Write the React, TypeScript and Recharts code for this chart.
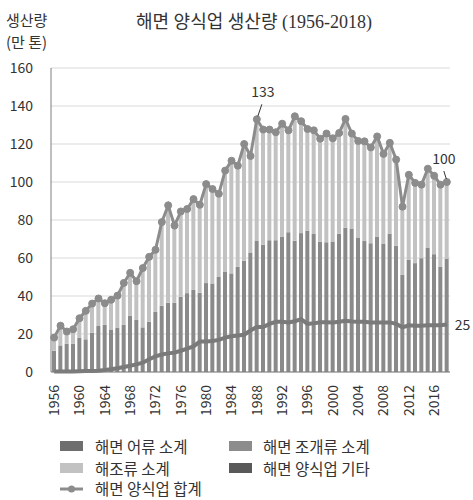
import React from 'react';
import { ComposedChart, Bar, Line, XAxis, YAxis, CartesianGrid, LabelList } from 'recharts';

const years: string[] = [];
for (let y = 1956; y <= 2018; y++) years.push(String(y));

// 해면 양식업 합계 (만 톤)
const totalValues = [
  18.1, 24.4, 21.3, 22.5, 28.3, 32.2, 36.0, 38.7, 36.2, 38.0,
  40.2, 46.9, 52.2, 47.8, 54.7, 60.6, 64.3, 78.9, 87.7, 77.1,
  84.5, 85.8, 91.0, 88.0, 98.9, 96.3, 93.8, 106.0, 111.2, 108.6,
  120.0, 113.7, 133, 127.6, 127.6, 126.2, 130.7, 127.2, 134.6, 132.0,
  127.9, 127.2, 122.8, 125.5, 123.0, 125.8, 133.2, 125.5, 121.6, 121.4,
  118.2, 124.0, 114.8, 120.6, 111.8, 87.0, 103.8, 99.5, 98.6, 107.0,
  103.3, 98.6, 100,
];

// top of the medium-gray bar segment
const lowerBarTop = [
  11.2, 14.0, 14.8, 14.8, 18.1, 17.2, 20.6, 24.2, 24.8, 22.1,
  23.4, 24.8, 29.7, 27.4, 23.5, 26.4, 31.6, 34.9, 36.5, 36.5,
  39.6, 41.5, 43.2, 41.7, 46.8, 46.6, 50.0, 52.9, 51.9, 55.4,
  58.6, 62.9, 69.2, 66.9, 69.4, 69.4, 71.3, 73.6, 69.1, 73.1,
  74.3, 72.6, 68.5, 68.3, 68.7, 72.7, 75.9, 75.5, 70.8, 68.9,
  67.8, 71.3, 67.6, 72.7, 66.4, 51.1, 59.0, 57.3, 59.9, 65.5,
  62.0, 55.5, 59.7,
];

// thick dark line near the bottom
const bottomLine = [
  0.2, 0.2, 0.3, 0.3, 0.4, 0.5, 0.5, 0.7, 1.0, 1.4,
  2.0, 2.6, 3.3, 4.0, 4.9, 6.7, 8.2, 9.2, 9.8, 10.2,
  11.2, 12.3, 13.5, 16.0, 16.0, 16.3, 16.9, 18.1, 18.8, 19.2,
  19.6, 21.8, 23.7, 23.7, 25.3, 26.4, 26.4, 26.1, 26.7, 27.8,
  25.3, 25.6, 26.2, 26.2, 26.1, 26.4, 27.0, 26.6, 26.4, 26.4,
  26.1, 26.1, 26.1, 26.1, 25.3, 23.5, 24.6, 24.4, 24.4, 24.6,
  24.6, 24.6, 25,
];

const yTicks = [0, 20, 40, 60, 80, 100, 120, 140, 160];

const data = years.map((year, i) => ({
  year,
  lower: lowerBarTop[i],
  upper: Math.round((totalValues[i] - lowerBarTop[i]) * 10) / 10,
  total: totalValues[i],
  bottom: bottomLine[i],
}));

const FONT = '"Noto Sans CJK KR", "Noto Sans", sans-serif';
const SERIF = '"Liberation Serif", "DejaVu Serif", "Noto Sans CJK KR", serif';
const TXT = '#333333';

const XTick = (props: any) => {
  const { x, y, payload } = props;
  return (
    <text
      x={x}
      y={y}
      transform={`rotate(-90, ${x}, ${y})`}
      textAnchor="end"
      dy="0.35em"
      fontSize={14}
      fill={TXT}
      fontFamily={FONT}
    >
      {payload.value}
    </text>
  );
};

const totalLabel = (props: any) => {
  const { x, y, index, value } = props;
  if (index === 32) {
    return (
      <g>
        <text x={x + 6} y={y - 22} textAnchor="middle" fontSize={14} fill={TXT} fontFamily={FONT}>
          {Math.round(value)}
        </text>
        <line x1={x + 1} y1={y - 3} x2={x + 5} y2={y - 15} stroke="#333" strokeWidth={1} />
      </g>
    );
  }
  if (index === 62) {
    return (
      <g>
        <text x={x - 3} y={y - 18} textAnchor="middle" fontSize={14} fill={TXT} fontFamily={FONT}>
          {Math.round(value)}
        </text>
        <line x1={x - 0.5} y1={y - 3} x2={x - 3} y2={y - 11} stroke="#333" strokeWidth={1} />
      </g>
    );
  }
  return null;
};

const bottomLabel = (props: any) => {
  const { x, y, index, value } = props;
  if (index === 62) {
    return (
      <text x={x + 8} y={y + 5} fontSize={14} fill={TXT} fontFamily={FONT}>
        {Math.round(value)}
      </text>
    );
  }
  return null;
};

const legendText: React.CSSProperties = {
  position: 'absolute',
  fontSize: 15.5,
  lineHeight: '20px',
  color: TXT,
  fontFamily: FONT,
  whiteSpace: 'nowrap',
};

const sq = (left: number, top: number, color: string) => (
  <div style={{ position: 'absolute', left, top, width: 23, height: 10, background: color }} />
);

export default function App() {
  return (
    <div style={{ position: 'absolute', left: 0, top: 0, width: 473, height: 500, background: '#fff', overflow: 'hidden' }}>
      <div style={{ ...legendText, fontSize: 15, left: 6, top: 10 }}>생산량</div>
      <div style={{ ...legendText, fontSize: 15, left: 6, top: 32 }}>(만 톤)</div>
      <div style={{ ...legendText, left: 136, top: 12, fontSize: 18, fontFamily: SERIF }}>해면 양식업 생산량 (1956-2018)</div>

      <div style={{ position: 'absolute', left: 0, top: 0 }}>
        <ComposedChart
          width={473}
          height={500}
          data={data}
          margin={{ top: 68, right: 23, left: 0, bottom: 78 }}
          barCategoryGap={0}
        >
          <CartesianGrid vertical={false} stroke="#d9d9d9" />
          <XAxis
            dataKey="year"
            interval={3}
            height={50}
            tickSize={0}
            tickMargin={13}
            tickLine={false}
            axisLine={{ stroke: '#7f7f7f' }}
            tick={<XTick />}
          />
          <YAxis
            width={51}
            domain={[0, 160]}
            ticks={yTicks}
            tickSize={0}
            tickMargin={18}
            tickLine={false}
            axisLine={{ stroke: '#7f7f7f' }}
            tick={{ fontSize: 14, fill: TXT, fontFamily: FONT }}
          />
          <Bar dataKey="lower" stackId="a" fill="#8a8a8a" barSize={4} isAnimationActive={false} />
          <Bar dataKey="upper" stackId="a" fill="#c2c2c2" barSize={4} isAnimationActive={false} />
          <Line
            dataKey="bottom"
            stroke="#7a7a7a"
            strokeWidth={4}
            dot={false}
            isAnimationActive={false}
          >
            <LabelList dataKey="bottom" content={bottomLabel} />
          </Line>
          <Line
            dataKey="total"
            stroke="#8c8c8c"
            strokeWidth={3}
            dot={{ r: 3.5, fill: '#8c8c8c', stroke: '#8c8c8c', strokeWidth: 1 }}
            isAnimationActive={false}
          >
            <LabelList dataKey="total" content={totalLabel} />
          </Line>
        </ComposedChart>
      </div>

      {sq(60, 441, '#6e6e6e')}
      <div style={{ ...legendText, left: 95, top: 436 }}>해면 어류 소계</div>
      {sq(229, 441, '#8c8c8c')}
      <div style={{ ...legendText, left: 263, top: 436 }}>해면 조개류 소계</div>
      {sq(60, 463, '#c2c2c2')}
      <div style={{ ...legendText, left: 95, top: 458 }}>해조류 소계</div>
      {sq(229, 463, '#595959')}
      <div style={{ ...legendText, left: 263, top: 458 }}>해면 양식업 기타</div>
      <svg style={{ position: 'absolute', left: 55, top: 481 }} width={34} height={16}>
        <line x1={5} y1={8} x2={28} y2={8} stroke="#8c8c8c" strokeWidth={3} />
        <circle cx={16.5} cy={8} r={3.5} fill="#8c8c8c" />
      </svg>
      <div style={{ ...legendText, left: 95, top: 478 }}>해면 양식업 합계</div>
    </div>
  );
}
